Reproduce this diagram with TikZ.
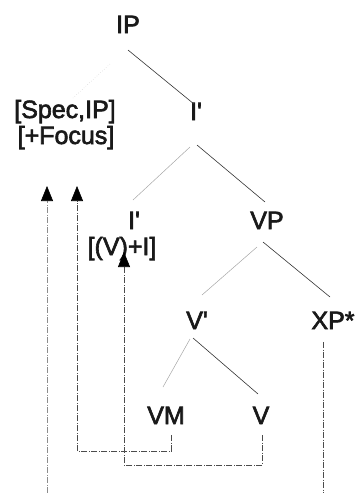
\documentclass[tikz,border=0pt]{standalone}
\usepackage{fontspec}
\newfontfamily\lblfont{Liberation Sans}[Ligatures=TeXOff,RawFeature={embolden=2.5}]
\usetikzlibrary{arrows.meta}
\begin{document}
\begin{tikzpicture}[x=1pt,y=-1pt,
  lbl/.style={anchor=base,inner sep=0pt,font=\lblfont\fontsize{25}{30}\selectfont,text=black!90},
  br/.style={line width=0.6pt,black!80},
  fbr/.style={line width=0.5pt,black!35},
  mv/.style={line width=0.6pt,black!70,dash pattern=on 6pt off 1.5pt on 1pt off 1.5pt},
  tip/.style={-{Triangle[length=15pt,width=12pt,color=black]}}]
\useasboundingbox (0,0) rectangle (357,493);
\node[lbl] (ip) at (128,33) {IP};
\node[lbl] (spec) at (65,118) {[Spec,IP]};
\node[lbl] (foc) at (66,144) {[+Focus]};
\node[lbl] (ib) at (196,120) {I'};
\node[lbl] (ibl) at (134,229) {I'};
\node[lbl] (vi) at (122,255) {[(V)+I]};
\node[lbl] (vp) at (267,229) {VP};
\node[lbl] (vb) at (197,329) {V'};
\node[lbl] (xp) at (333,329) {XP*};
\node[lbl] (vm) at (166,424) {VM};
\node[lbl] (v) at (261,424) {V};
% tree branches
\coordinate (a1) at (128,50); \coordinate (a2) at (194,104);
\draw[br] (a1) -- (a2);
\coordinate (b1) at (110,64); \coordinate (b2) at (73,98);
\draw[fbr,black!20,dotted] (b1) -- (b2);
\coordinate (c1) at (190,147); \coordinate (c2) at (133,200);
\draw[fbr] (c1) -- (c2);
\coordinate (d1) at (197,145); \coordinate (d2) at (265,202);
\draw[br] (d1) -- (d2);
\coordinate (e1) at (257,247); \coordinate (e2) at (202,295);
\draw[fbr] (e1) -- (e2);
\coordinate (f1) at (263,242); \coordinate (f2) at (330,297);
\draw[br] (f1) -- (f2);
\coordinate (g1) at (190,339); \coordinate (g2) at (163,387);
\draw[fbr] (g1) -- (g2);
\coordinate (h1) at (193,338); \coordinate (h2) at (258,394);
\draw[br] (h1) -- (h2);
% movement lines
\coordinate (t1) at (47,186); \coordinate (s1) at (47,493);
\draw[mv,black!45,tip] (s1) -- (t1);
\coordinate (t2) at (77,186); \coordinate (s2) at (171,435);
\draw[mv,tip] (s2) -- (171,451) -- (77,451) -- (t2);
\coordinate (t3) at (124,252); \coordinate (s3) at (262,435);
\draw[mv,tip] (s3) -- (262,465) -- (124,465) -- (t3);
\coordinate (x1) at (323,342); \coordinate (x2) at (323,493);
\draw[mv] (x1) -- (x2);
\end{tikzpicture}
\end{document}
